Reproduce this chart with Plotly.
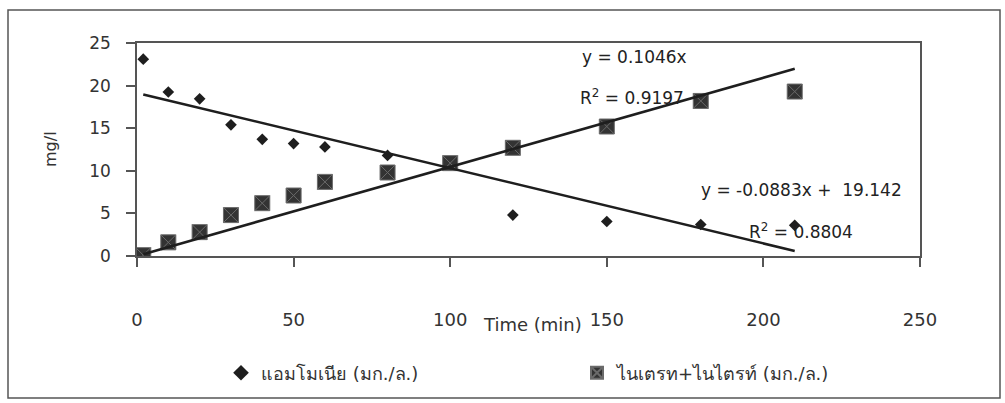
import plotly.graph_objects as go

# ---- data ----
time_min = [2, 10, 20, 30, 40, 50, 60, 80, 100, 120, 150, 180, 210]
ammonia = [23.1, 19.25, 18.45, 15.4, 13.7, 13.2, 12.8, 11.8, None, 4.8, 4.05, 3.7, 3.6]
nitrate_nitrite = [0.1, 1.6, 2.8, 4.8, 6.2, 7.1, 8.7, 9.8, 10.9, 12.7, 15.2, 18.2, 19.3]

ammonia_name = "แอมโมเนีย (มก./ล.)"
nitrate_name = "ไนเตรท+ไนไตรท์ (มก./ล.)"

# trendline equations shown on the chart
nit_slope, nit_intercept = 0.1046, 0.0
amm_slope, amm_intercept = -0.0883, 19.142
nit_eq = "y = 0.1046x"
nit_r2 = "R<sup>2</sup> = 0.9197"
amm_eq = "y = -0.0883x +  19.142"
amm_r2 = "R<sup>2</sup> = 0.8804"

x_ticks = [0, 50, 100, 150, 200, 250]
y_ticks = [0, 5, 10, 15, 20, 25]

FONT = "DejaVu Sans, Liberation Sans, Noto Sans, sans-serif"
INK = "#1e1e1e"

# plot area in pixels (1005 x 403 canvas)
L, R, T, B = 137, 920, 43, 256
W, H = 1005, 403
pw, ph = R - L, B - T


def px(x):
    return (x - L) / pw


def py(y):
    return (B - y) / ph


fig = go.Figure()

trend_x = [min(time_min), max(time_min)]

fig.add_trace(go.Scatter(
    x=time_min, y=ammonia, mode="markers", name=ammonia_name,
    marker=dict(symbol="diamond", size=9, color=INK),
    legend="legend",
))
fig.add_trace(go.Scatter(
    x=time_min, y=nitrate_nitrite, mode="markers", name=nitrate_name,
    marker=dict(symbol="square-x", size=15, color="#333333",
                line=dict(color="#6a6a6a", width=1)),
    legend="legend2",
))
fig.add_trace(go.Scatter(
    x=trend_x, y=[nit_slope * v + nit_intercept for v in trend_x],
    mode="lines", line=dict(color=INK, width=2.6), showlegend=False,
))
fig.add_trace(go.Scatter(
    x=trend_x, y=[amm_slope * v + amm_intercept for v in trend_x],
    mode="lines", line=dict(color=INK, width=2.6), showlegend=False,
))

ann_font = dict(family=FONT, size=17, color="#222")
annotations = [
    dict(text=nit_eq, x=px(634), y=py(57)),
    dict(text=nit_r2, x=px(632), y=py(97)),
    dict(text=amm_eq, x=px(801), y=py(190)),
    dict(text=amm_r2, x=px(801), y=py(231)),
    dict(text="Time (min)", x=px(532), y=py(324), font=dict(family=FONT, size=18, color="#333")),
    dict(text="mg/l", x=px(50), y=py(149), textangle=-90, font=dict(family=FONT, size=16, color="#333")),
]
for a in annotations:
    a.update(xref="paper", yref="paper", showarrow=False,
             xanchor="center", yanchor="middle")
    a.setdefault("font", ann_font)

legend_font = dict(family=FONT, size=18, color="#333")
fig.update_layout(
    width=W, height=H,
    margin=dict(l=L, r=W - R, t=T, b=H - B, pad=0),
    paper_bgcolor="white", plot_bgcolor="white",
    font=dict(family=FONT, size=16, color="#333"),
    annotations=annotations,
    legend=dict(x=px(221), y=py(373), xanchor="left", yanchor="middle",
                orientation="h", font=legend_font, itemsizing="constant",
                bgcolor="rgba(0,0,0,0)"),
    legend2=dict(x=px(577), y=py(373), xanchor="left", yanchor="middle",
                 orientation="h", font=legend_font, itemsizing="constant",
                 bgcolor="rgba(0,0,0,0)"),
    shapes=[dict(type="rect", xref="paper", yref="paper",
                 x0=px(8), x1=px(1000), y0=py(398), y1=py(10),
                 line=dict(color="#555", width=1.5), fillcolor="rgba(0,0,0,0)",
                 layer="below")],
)

fig.update_xaxes(
    range=[0, 250], tickvals=x_ticks, ticktext=[str(v) for v in x_ticks],
    showgrid=False, zeroline=False,
    showline=True, linecolor="#555", linewidth=1.5, mirror=True,
    ticks="outside", ticklen=9, tickcolor="#555", tickwidth=1.5,
    ticklabelstandoff=38,
    tickfont=dict(family=FONT, size=18, color="#333"),
)
fig.update_yaxes(
    range=[0, 25], tickvals=y_ticks, ticktext=[str(v) for v in y_ticks],
    showgrid=False, zeroline=False,
    showline=True, linecolor="#555", linewidth=1.5, mirror=True,
    ticks="outside", ticklen=9, tickcolor="#555", tickwidth=1.5,
    ticklabelstandoff=12,
    tickfont=dict(family=FONT, size=17, color="#333"),
)

fig.write_html("out.html")
